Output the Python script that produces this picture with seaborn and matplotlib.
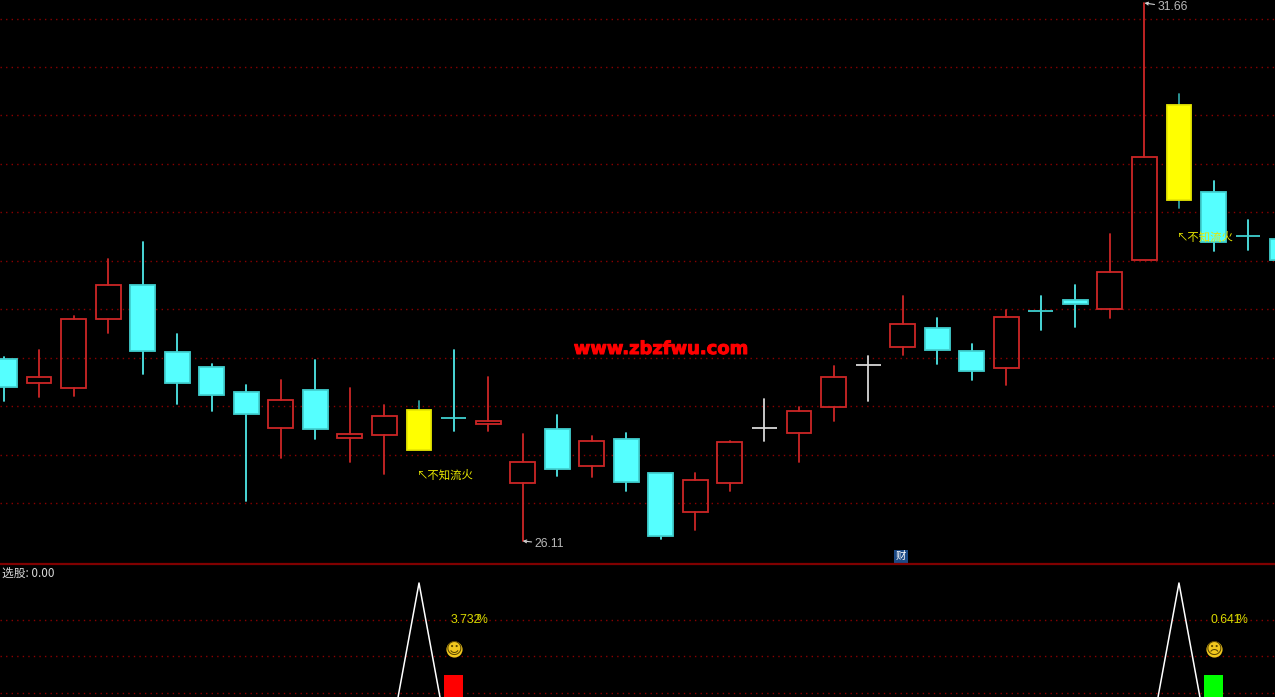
import matplotlib

matplotlib.use("Agg")

import matplotlib.patheffects as pe
import matplotlib.pyplot as plt
import numpy as np
import pandas as pd
import seaborn as sns

# r = hollow red, c = cyan, y = yellow (signal day), w = white doji
kinds = [
    "c", "r", "r", "r", "c", "c", "c", "c", "r", "c",
    "r", "r", "y", "c", "r", "r", "c", "r", "c", "c",
    "r", "r", "w", "r", "r", "w", "r", "c", "c", "r",
    "c", "c", "r", "r", "y", "c", "c", "c",
]
highs = [
    28.01, 28.08, 28.43, 29.02, 29.19, 28.25, 27.94, 27.72, 27.77, 27.98,
    27.69, 27.51, 27.55, 28.08, 27.80, 27.21, 27.41, 27.19, 27.22, 26.81,
    26.81, 27.14, 27.57, 27.49, 27.91, 28.02, 28.64, 28.41, 28.14, 28.49,
    28.64, 28.75, 29.28, 31.66, 30.72, 29.82, 29.42, 29.23,
]
body_tops = [
    27.99, 27.80, 28.40, 28.75, 28.75, 28.06, 27.90, 27.65, 27.56, 27.67,
    27.21, 27.40, 27.46, 27.38, 27.35, 26.92, 27.26, 27.14, 27.16, 26.81,
    26.74, 27.13, 27.28, 27.45, 27.80, 27.92, 28.35, 28.31, 28.07, 28.42,
    28.48, 28.60, 28.88, 30.07, 30.61, 29.71, 29.26, 29.23,
]
body_bottoms = [
    27.70, 27.74, 27.69, 28.40, 28.07, 27.74, 27.62, 27.42, 27.28, 27.26,
    27.17, 27.20, 27.05, 27.38, 27.32, 26.71, 26.85, 26.88, 26.72, 26.16,
    26.41, 26.71, 27.28, 27.22, 27.49, 27.92, 28.11, 28.08, 27.86, 27.89,
    28.48, 28.55, 28.50, 29.01, 29.63, 29.19, 29.26, 29.01,
]
lows = [
    27.55, 27.59, 27.61, 28.26, 27.83, 27.52, 27.45, 26.52, 26.97, 27.16,
    26.92, 26.80, 27.05, 27.24, 27.24, 26.11, 26.78, 26.77, 26.63, 26.13,
    26.22, 26.63, 27.14, 26.92, 27.35, 27.55, 28.03, 27.94, 27.77, 27.72,
    28.29, 28.32, 28.41, 29.01, 29.54, 29.10, 29.11, 29.01,
]
price_grid = [31.5, 31.0, 30.5, 30.0, 29.5, 29.0, 28.5, 28.0, 27.5, 27.0, 26.5]

signal = [0] * 38
signal[12] = 1
signal[34] = 1
signal_grid = [0.805, 0.61, 0.415]
gain_days = [13, 35]
gain_bars = [0.51, 0.51]
gain_colors = ["#ff0000", "#00ff00"]
gain_labels = ["3.732", "0.641"]
gain_faces = ["\u263a", "\u2639"]
label_days = [11.91, 33.91]
label_prices = [26.79, 29.245]

RED = "#cc2626"
COLORS = {"r": RED, "c": "#4fe8e8", "y": "#2fa0a0", "w": "#d8d8d8"}
FACES = {"r": "none", "c": "#55ffff", "y": "#ffff00", "w": "#d8d8d8"}
EDGES = {"r": RED, "c": "#40d0d0", "y": "#e8e800", "w": "#d8d8d8"}
GRID = "#8a0000"
DOTS = (0, (1, 3))
LATIN = "Liberation Sans"
CJK = ["Noto Sans CJK SC", "DejaVu Sans"]

sns.set_theme(style="dark", rc={"axes.facecolor": "black", "figure.facecolor": "black"})
plt.rcParams["font.family"] = CJK

fig = plt.figure(figsize=(12.75, 6.97), dpi=100)
ax = fig.add_axes([0, 133 / 697, 1, 564 / 697])
ax2 = fig.add_axes([0, 0, 1, 133 / 697], sharex=ax)

# wicks, split so they stop at the body
rows = []
for i, kind in enumerate(kinds):
    rows.append((i, highs[i], f"{i}a", kind))
    rows.append((i, body_tops[i], f"{i}a", kind))
    rows.append((i, body_bottoms[i], f"{i}b", kind))
    rows.append((i, lows[i], f"{i}b", kind))
wicks = pd.DataFrame(rows, columns=["day", "price", "seg", "kind"])

for p in price_grid:
    ax.axhline(p, color=GRID, lw=1, ls=DOTS, zorder=1)
sns.lineplot(
    data=wicks,
    x="day",
    y="price",
    hue="kind",
    units="seg",
    estimator=None,
    sort=False,
    palette=COLORS,
    lw=1.3,
    legend=False,
    ax=ax,
    zorder=2,
)
for i, kind in enumerate(kinds):
    ax.bar(
        i,
        body_tops[i] - body_bottoms[i],
        bottom=body_bottoms[i],
        width=0.72,
        facecolor=FACES[kind],
        edgecolor=EDGES[kind],
        lw=1.3,
        zorder=3,
    )

ax.set_xlim(-0.13, 36.78)
ax.set_ylim(25.872, 31.691)

for d, p in zip(label_days, label_prices):
    ax.text(d, p, "\u2196\u4e0d\u77e5\u6d41\u706b", color="#e8e800", fontsize=8.2, va="center", zorder=5)

arrow = dict(arrowstyle="->", color="#d0d0d0", lw=0.8, mutation_scale=5, shrinkA=0, shrinkB=0)
ax.annotate(
    "31.66",
    xy=(33, 31.66),
    xytext=(9.6, -3),
    textcoords="offset points",
    color="#b8b8b8",
    fontsize=8.8,
    family=LATIN,
    va="center",
    arrowprops=arrow,
)
ax.annotate(
    "26.11",
    xy=(15, 26.11),
    xytext=(8.8, -2.2),
    textcoords="offset points",
    color="#b8b8b8",
    fontsize=8.8,
    family=LATIN,
    va="center",
    arrowprops=arrow,
)
ax.text(
    19.0,
    28.09,
    "www.zbzfwu.com",
    color="#ff0000",
    fontsize=12.9,
    fontweight="bold",
    family="DejaVu Sans",
    ha="center",
    va="center",
    path_effects=[pe.withStroke(linewidth=0.7, foreground="#ff0000")],
)
ax.text(
    25.95,
    25.95,
    "\u8d22",
    color="white",
    fontsize=7.5,
    ha="center",
    va="center",
    bbox=dict(facecolor="#1c4a86", edgecolor="none", pad=1.2),
)

# lower panel
for v in signal_grid:
    ax2.axhline(v, color=GRID, lw=1, ls=DOTS, zorder=1)
sns.lineplot(x=np.arange(len(signal)), y=signal, color="white", lw=1.1, ax=ax2, zorder=3)
ax2.bar(gain_days, gain_bars, width=0.54, color=gain_colors, edgecolor=gain_colors, lw=0, zorder=2)
ax2.set_ylim(0.394, 1.101)

# the % sign overlaps the last digit in the source too
for d, txt, face in zip(gain_days, gain_labels, gain_faces):
    ax2.text(d - 0.08, 0.803, txt, color="#d8d800", fontsize=8.8, family=LATIN, ha="left", va="center")
    ax2.text(d + 0.82, 0.803, "%", color="#d8d800", fontsize=8.8, family=LATIN, ha="center", va="center")
    ax2.scatter([d], [0.648], s=135, color="#f2c81e", linewidths=0, zorder=4)
    ax2.text(d, 0.645, face, color="#5a4600", fontsize=11.5, family="DejaVu Sans", ha="center", va="center", zorder=5)

ax2.text(0.0015, 0.93, "\u9009\u80a1: 0.00", color="#d8d8d8", fontsize=8.5, transform=ax2.transAxes, va="center")

for a in (ax, ax2):
    a.set(xlabel="", ylabel="", xticks=[], yticks=[])
    a.grid(False)
    for s in a.spines.values():
        s.set_visible(False)
ax2.spines["top"].set_visible(True)
ax2.spines["top"].set_color("#800000")
ax2.spines["top"].set_linewidth(1.6)

fig.savefig("out.png", dpi=100, facecolor="black")
